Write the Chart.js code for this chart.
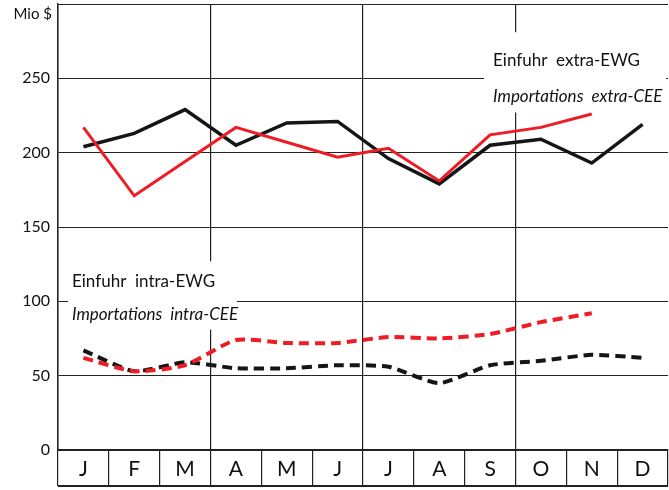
<!DOCTYPE html>
<html>
<head>
<meta charset="utf-8">
<script src="https://cdn.jsdelivr.net/npm/chart.js@4.4.1/dist/chart.umd.min.js"></script>
<style>
  html, body { margin: 0; padding: 0; background: #fff; }
  #wrap { width: 669px; height: 490px; }
</style>
</head>
<body>
<div id="wrap"><canvas id="c"></canvas></div>
<script>
// Monthly imports, Mio $
const months = ['J', 'F', 'M', 'A', 'M', 'J', 'J', 'A', 'S', 'O', 'N', 'D'];
const extraBlack = [204, 213, 229, 205, 220, 221, 196, 179, 205, 209, 193, 219];
const extraRed = [217, 171, 194, 217, 207, 197, 203, 181, 212, 217, 226, null];
const intraBlack = [67, 53, 59, 55, 55, 57, 56, 45, 57, 60, 64, 62];
const intraRed = [62, 53, 57, 74, 72, 72, 76, 75, 78, 86, 92, null];
const yTicks = [0, 50, 100, 150, 200, 250, 300];

const BLACK = '#151515';
const RED = '#ee1c25';
const BAND = 36;

// labels, white boxes and frame bottom
const decor = {
  id: 'decor',
  beforeDatasetsDraw(chart) {
    const { ctx, chartArea: a, scales: { x, y } } = chart;
    ctx.save();
    ctx.fillStyle = '#fff';
    ctx.fillRect(x.getPixelForValue(8) - 6, y.getPixelForValue(281), a.right - 2 - (x.getPixelForValue(8) - 6), y.getPixelForValue(227) - y.getPixelForValue(281));
    ctx.fillRect(a.left + 10, y.getPixelForValue(127), x.getPixelForValue(3) + 1 - (a.left + 10), y.getPixelForValue(81) - y.getPixelForValue(127));
    ctx.fillStyle = '#111';
    ctx.textBaseline = 'middle';
    ctx.font = '17px Lato';
    ctx.fillText('Einfuhr  extra-EWG', x.getPixelForValue(8) + 3, y.getPixelForValue(262));
    ctx.fillText('Einfuhr  intra-EWG', a.left + 14, y.getPixelForValue(113));
    ctx.font = 'italic 17px Lato';
    ctx.fillText('Importations  extra-CEE', x.getPixelForValue(8) + 3, y.getPixelForValue(238));
    ctx.fillText('Importations  intra-CEE', a.left + 14, y.getPixelForValue(91));
    ctx.restore();
  },
  afterDraw(chart) {
    const { ctx, chartArea: a } = chart;
    ctx.save();
    ctx.strokeStyle = '#222';
    ctx.lineWidth = 2;
    ctx.beginPath();
    ctx.moveTo(a.left, a.bottom + BAND);
    ctx.lineTo(a.right, a.bottom + BAND);
    ctx.stroke();
    ctx.fillStyle = '#111';
    ctx.font = '15px Lato';
    ctx.textBaseline = 'middle';
    ctx.textAlign = 'right';
    ctx.fillText('Mio $', a.left - 6, a.top + 10);
    ctx.restore();
  }
};

new Chart(document.getElementById('c'), {
  type: 'line',
  data: {
    labels: months,
    datasets: [
      { data: extraRed, borderColor: RED, borderWidth: 3, tension: 0 },
      { data: extraBlack, borderColor: BLACK, borderWidth: 3.5, tension: 0 },
      { data: intraRed, borderColor: RED, borderWidth: 4, borderDash: [10, 6], tension: 0.2 },
      { data: intraBlack, borderColor: BLACK, borderWidth: 4, borderDash: [10, 6], tension: 0.2 }
    ]
  },
  options: {
    responsive: true,
    maintainAspectRatio: false,
    animation: false,
    layout: { padding: { top: 4, right: 1, left: 0, bottom: 0 } },
    elements: { point: { radius: 0 } },
    plugins: { legend: { display: false }, tooltip: { enabled: false } },
    scales: {
      x: {
        offset: true,
        grid: {
          offset: true,
          color: c => (c.index % 3 === 0 ? '#222' : 'rgba(0,0,0,0)'),
          tickColor: '#222',
          tickLength: BAND,
          lineWidth: 1.2
        },
        border: { display: true, color: '#222', width: 2 },
        ticks: { color: '#111', font: { family: 'Lato', size: 21 }, padding: -29, maxRotation: 0, autoSkip: false },
        afterFit: s => { s.height = 40; }
      },
      y: {
        min: 0,
        max: 300,
        afterBuildTicks: s => { s.ticks = yTicks.map(v => ({ value: v })); },
        grid: { color: '#222', lineWidth: 1, drawTicks: false },
        border: { display: true, color: '#222', width: 1.5 },
        ticks: {
          color: '#111',
          font: { family: 'Lato', size: 16 },
          padding: 8,
          callback: v => (v === 300 ? '' : v)
        },
        afterFit: s => { s.width = 58; s.paddingTop = 0; s.paddingBottom = 0; }
      }
    }
  },
  plugins: [decor]
});
</script>
</body>
</html>
